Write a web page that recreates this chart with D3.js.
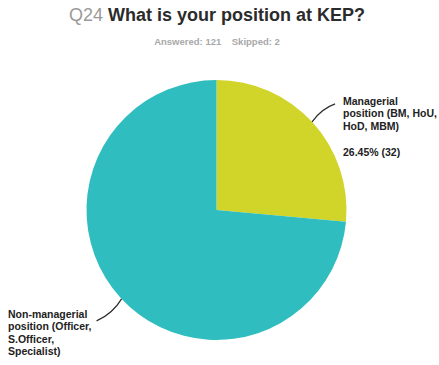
<!DOCTYPE html>
<html>
<head>
<meta charset="utf-8">
<script src="https://cdn.jsdelivr.net/npm/d3@7"></script>
<style>
  html, body { margin: 0; padding: 0; background: #fff; }
  svg { display: block; font-family: "Liberation Sans", Arial, Helvetica, sans-serif; }
</style>
</head>
<body>
<svg id="chart" width="439" height="365"></svg>
<script>
// Survey answers for Q24
const categories = [
  "Managerial position (BM, HoU, HoD, MBM)",
  "Non-managerial position (Officer, S.Officer, Specialist)"
];
const counts = [32, 89];
const colors = ["#d1d529", "#2fbdbf"];
const answered = 121;
const skipped = 2;

// Label text lines for each slice
const labelLines = [
  ["Managerial", "position (BM, HoU,", "HoD, MBM)"],
  ["Non-managerial", "position (Officer,", "S.Officer,", "Specialist)"]
];

const svg = d3.select("#chart");
const W = 439;
const cx = 216.5, cy = 210, R = 130;

// Title
const title = svg.append("text")
  .attr("x", 217).attr("y", 21)
  .attr("text-anchor", "middle")
  .style("font-size", "18px");
title.append("tspan").attr("fill", "#9a9a9a").text("Q24 ");
title.append("tspan").attr("fill", "#2b2b2b").attr("font-weight", "bold").text("What is your position at KEP?");

svg.append("text")
  .attr("x", 217).attr("y", 45)
  .attr("text-anchor", "middle")
  .attr("fill", "#a8a8a8")
  .attr("font-weight", "bold")
  .style("font-size", "9.5px")
  .style("white-space", "pre")
  .text(`Answered: ${answered}    Skipped: ${skipped}`);

// Pie
const pie = d3.pie().sort(null).value(d => d)(counts);
const arc = d3.arc().innerRadius(0).outerRadius(R);
const g = svg.append("g").attr("transform", `translate(${cx},${cy})`);
g.selectAll("path.slice")
  .data(pie)
  .join("path")
  .attr("class", "slice")
  .attr("d", arc)
  .attr("fill", (d, i) => colors[i]);

// Leader lines from the rim outward
const total = d3.sum(counts);
const rimAngle = [0.826, 3.96];
const leader = [
  { dx: 23, dy: -18, c: [9, -13] },
  { dx: -25, dy: 22, c: [-9, 15] }
];
pie.forEach((d, i) => {
  const a = rimAngle[i];
  const x0 = cx + R * Math.sin(a), y0 = cy - R * Math.cos(a);
  const x1 = x0 + leader[i].dx, y1 = y0 + leader[i].dy;
  const p = d3.path();
  p.moveTo(x0, y0);
  p.quadraticCurveTo(x0 + leader[i].c[0], y0 + leader[i].c[1], x1, y1);
  svg.append("path").attr("d", p.toString())
    .attr("fill", "none").attr("stroke", "#2a2a2a").attr("stroke-width", 1.2);
});

// Slice labels
const labelPos = [{ x: 343, y: 105 }, { x: 8, y: 318 }];
labelLines.forEach((lines, i) => {
  const t = svg.append("text")
    .attr("x", labelPos[i].x).attr("y", labelPos[i].y)
    .attr("fill", "#222")
    .attr("font-weight", "bold")
    .style("font-size", "10.5px");
  lines.forEach((ln, j) => {
    t.append("tspan").attr("x", labelPos[i].x).attr("dy", j === 0 ? 0 : 12.4).text(ln);
  });
});

// Percentage for managerial slice
const pct = (counts[0] / total * 100).toFixed(2);
svg.append("text")
  .attr("x", labelPos[0].x).attr("y", 156)
  .attr("fill", "#222").attr("font-weight", "bold")
  .style("font-size", "10.5px")
  .text(`${pct}% (${counts[0]})`);
</script>
</body>
</html>
